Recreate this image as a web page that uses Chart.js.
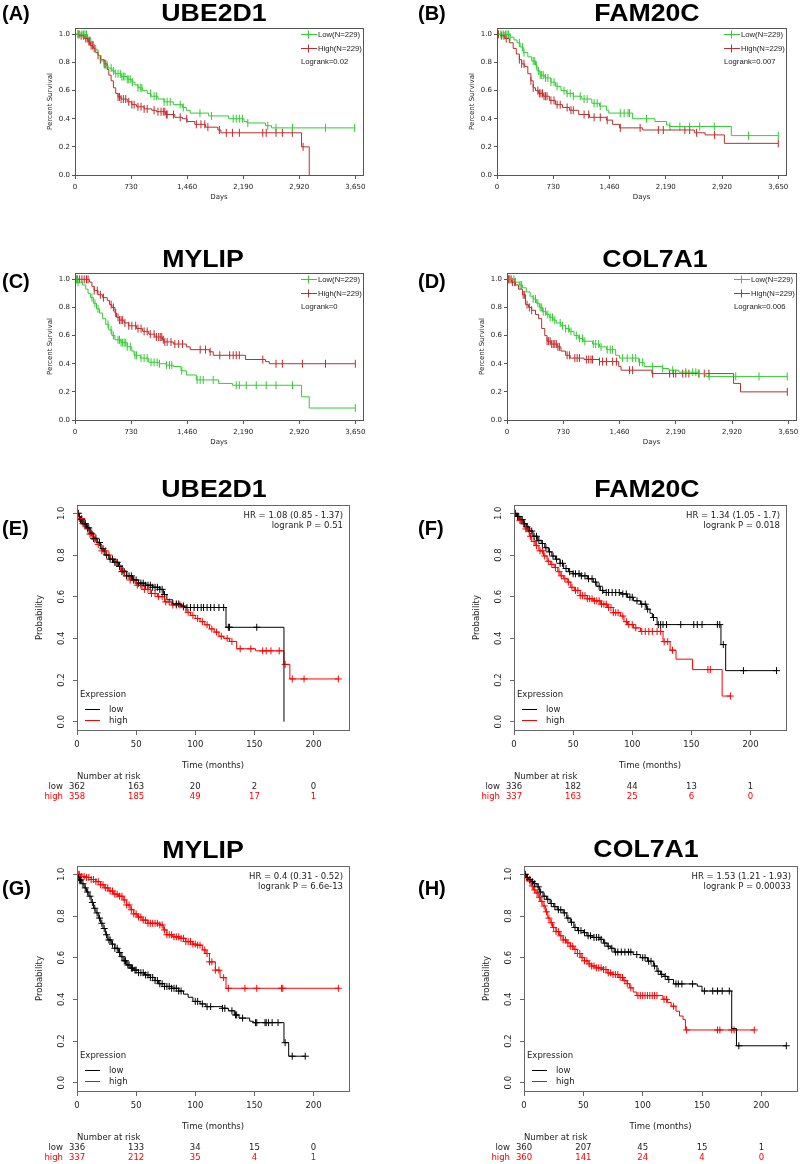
<!DOCTYPE html>
<html>
<head>
<meta charset="utf-8">
<script src="https://cdn.jsdelivr.net/npm/chart.js@4.4.1/dist/chart.umd.min.js"></script>
<style>
  body { margin: 0; background: #fff; }
  #page { position: relative; width: 800px; height: 1164px; overflow: hidden; background: #fff; }
  canvas { position: absolute; }
  .lbl { position: absolute; font-family: 'Liberation Sans', Arial, sans-serif; font-weight: bold; color: #000; white-space: nowrap; }
</style>
</head>
<body>
<div id="page"></div>
<script>
// axis ticks
const daysTicks = [0, 730, 1460, 2190, 2920, 3650];
const monthTicks = [0, 50, 100, 150, 200];
const probTicks = [0, 0.2, 0.4, 0.6, 0.8, 1.0];

// (A) UBE2D1, days: [time, survival after drop]
const aLowSteps = [[0,1],[160,0.98],[200,0.95],[240,0.92],[270,0.89],[300,0.85],[340,0.81],[380,0.78],[430,0.76],[480,0.74],[520,0.72],[600,0.70],[680,0.68],[740,0.66],[780,0.64],[820,0.62],[880,0.60],[940,0.58],[990,0.56],[1080,0.54],[1160,0.52],[1280,0.50],[1400,0.48],[1450,0.46],[1500,0.44],[1740,0.42],[2000,0.40],[2200,0.38],[2240,0.37],[2480,0.35],[2560,0.335]];
const aLowCensor = [40,60,90,110,130,150,390,420,470,500,530,560,590,610,630,650,680,700,720,750,820,850,870,985,1030,1060,1160,1200,1240,1370,1410,1627,1778,2060,2100,2140,2180,2250,2510,2617,2832,3262,3641];
const aHighSteps = [[0,1],[60,0.99],[120,0.97],[170,0.95],[200,0.92],[240,0.90],[270,0.87],[300,0.85],[330,0.82],[380,0.79],[420,0.75],[440,0.71],[470,0.67],[500,0.62],[530,0.58],[560,0.555],[600,0.54],[680,0.52],[740,0.50],[800,0.485],[900,0.47],[1000,0.46],[1060,0.45],[1180,0.43],[1300,0.41],[1400,0.40],[1460,0.38],[1560,0.36],[1700,0.34],[1860,0.32],[1900,0.30],[2950,0.20],[3050,0]];
const aHighCensor = [40,80,110,140,160,180,190,210,230,250,300,330,380,400,560,580,600,630,660,700,740,770,820,860,900,940,1030,1080,1120,1150,1170,1190,1200,1283,1370,1455,1580,1640,1690,1730,1880,1970,2050,2140,2445,2490,2617,2700,2830,2970];

// (B) FAM20C, days
const bLowSteps = [[0,1],[170,0.98],[220,0.96],[260,0.94],[300,0.91],[340,0.87],[400,0.84],[450,0.81],[500,0.78],[520,0.74],[560,0.71],[620,0.69],[700,0.66],[760,0.63],[830,0.60],[900,0.58],[990,0.56],[1100,0.54],[1230,0.51],[1330,0.49],[1420,0.46],[1450,0.44],[1760,0.40],[2050,0.38],[2200,0.355],[2240,0.345],[3040,0.28]];
const bLowCensor = [50,80,110,130,150,170,290,330,350,470,490,510,540,560,580,600,630,660,700,740,780,870,910,950,990,1080,1130,1170,1260,1300,1340,1600,1650,1700,1720,1940,2244,2373,2500,2630,2820,3263,3650];
const bHighSteps = [[0,1],[50,0.99],[100,0.97],[160,0.94],[210,0.90],[250,0.86],[290,0.82],[320,0.79],[360,0.77],[400,0.72],[440,0.67],[470,0.62],[500,0.60],[540,0.58],[600,0.56],[680,0.53],[760,0.50],[850,0.48],[940,0.46],[1060,0.43],[1200,0.41],[1420,0.39],[1500,0.36],[1590,0.335],[1890,0.32],[2560,0.30],[2700,0.285],[2950,0.225]];
const bHighCensor = [20,60,90,120,290,320,350,440,470,530,550,570,590,610,630,650,700,740,780,820,910,960,990,1130,1190,1260,1340,1430,1600,1857,2094,2158,2438,2500,2590,2824,3650];

// (C) MYLIP, days
const cLowSteps = [[0,1],[30,0.98],[100,0.96],[140,0.93],[170,0.90],[200,0.87],[240,0.83],[280,0.79],[320,0.76],[360,0.72],[400,0.68],[440,0.64],[480,0.60],[520,0.57],[600,0.55],[680,0.52],[740,0.49],[770,0.46],[850,0.44],[960,0.41],[1100,0.40],[1190,0.39],[1280,0.38],[1380,0.35],[1450,0.32],[1580,0.285],[1870,0.26],[2050,0.247],[2950,0.165],[3050,0.085]];
const cLowCensor = [10,20,40,220,260,300,430,470,500,560,580,600,620,640,660,680,720,780,800,860,900,940,990,1030,1070,1100,1190,1230,1260,1390,1590,1630,1670,1800,2100,2140,2230,2360,2490,2617,2832,3650];
const cHighSteps = [[0,1],[190,0.98],[220,0.95],[250,0.92],[300,0.89],[360,0.87],[420,0.85],[450,0.82],[480,0.80],[520,0.76],[540,0.73],[580,0.71],[640,0.69],[700,0.67],[800,0.65],[880,0.63],[960,0.61],[1040,0.59],[1140,0.57],[1160,0.555],[1280,0.54],[1450,0.52],[1500,0.50],[1750,0.485],[1800,0.46],[2220,0.43],[2480,0.415],[2530,0.40]];
const cHighCensor = [30,60,90,120,150,170,250,290,330,370,470,500,530,560,580,600,620,650,700,740,790,820,860,900,940,980,1030,1060,1090,1110,1130,1150,1170,1200,1250,1300,1350,1400,1630,1700,1760,1885,2014,2060,2100,2140,2445,2617,2700,2961,3262,3650];

// (D) COL7A1, days
const dLowSteps = [[0,1],[110,0.98],[160,0.96],[200,0.94],[250,0.91],[300,0.88],[340,0.86],[380,0.83],[420,0.80],[460,0.77],[510,0.75],[550,0.73],[600,0.71],[640,0.69],[700,0.67],[760,0.65],[810,0.63],[870,0.60],[930,0.58],[990,0.56],[1110,0.54],[1200,0.52],[1290,0.50],[1410,0.46],[1460,0.44],[1710,0.41],[1780,0.38],[2020,0.366],[2100,0.354],[2230,0.34],[2490,0.33],[2580,0.31]];
const dLowCensor = [30,60,90,110,170,190,340,370,400,430,450,470,500,530,560,590,620,690,720,760,800,830,900,940,980,1010,1120,1150,1190,1220,1300,1340,1370,1500,1560,1630,1670,1720,1760,1890,2020,2150,2320,2410,2450,2490,2623,2968,3270,3637];
const dHighSteps = [[0,1],[60,0.98],[110,0.96],[150,0.93],[200,0.89],[240,0.82],[280,0.80],[320,0.78],[370,0.75],[410,0.72],[450,0.65],[490,0.60],[520,0.56],[570,0.54],[650,0.52],[700,0.49],[760,0.46],[820,0.44],[1000,0.43],[1200,0.415],[1450,0.38],[1480,0.354],[1880,0.33],[2940,0.26],[3030,0.2]];
const dHighCensor = [20,40,70,100,210,230,260,290,320,520,540,560,580,600,620,640,660,680,780,810,880,910,940,1030,1060,1090,1110,1200,1240,1290,1370,1420,1590,1630,1890,2110,2160,2190,2280,2320,2360,2490,2560,2620,3637];

// (E) UBE2D1, months
const eLowSteps = [[0,1],[2,0.97],[5,0.95],[8,0.93],[11,0.905],[14,0.88],[17,0.86],[20,0.83],[23,0.80],[27,0.78],[31,0.765],[35,0.745],[38,0.72],[42,0.70],[47,0.68],[52,0.665],[58,0.655],[64,0.645],[70,0.635],[73,0.61],[76,0.585],[81,0.565],[88,0.555],[91,0.548],[126,0.453],[175,0]];
const eLowCensor = [1,3,4,6,7,9,10,12,14,16,19,22,25,28,30,32,34,36,38,40,42,44,46,48,50,52,54,56,58,60,62,64,66,68,70,72,74,84,86,90,93,96,99,102,105,107,110,113,116,120,124,128,129,152];
const eHighSteps = [[0,1],[2,0.975],[5,0.95],[8,0.925],[11,0.90],[14,0.875],[17,0.85],[21,0.82],[25,0.80],[28,0.78],[31,0.765],[34,0.75],[37,0.725],[40,0.70],[45,0.68],[50,0.655],[55,0.635],[62,0.615],[68,0.60],[74,0.575],[80,0.56],[88,0.55],[92,0.525],[96,0.51],[100,0.495],[104,0.48],[108,0.465],[112,0.445],[116,0.43],[120,0.41],[124,0.40],[129,0.385],[135,0.35],[151,0.34],[175,0.275],[180,0.205]];
const eHighCensor = [1,2,4,5,7,9,11,13,15,18,21,24,27,30,33,36,39,42,45,48,51,54,57,60,63,66,69,72,75,78,81,84,87,90,94,98,102,106,110,114,118,122,127,131,138,147,157,160,164,171,176,182,192,221];
const eRiskLow = [362, 163, 20, 2, 0];
const eRiskHigh = [358, 185, 49, 17, 1];

// (F) FAM20C, months
const fLowSteps = [[0,1],[2,0.985],[5,0.97],[8,0.95],[11,0.935],[13,0.915],[16,0.89],[20,0.87],[23,0.855],[26,0.835],[29,0.815],[32,0.795],[35,0.78],[39,0.76],[42,0.735],[46,0.72],[50,0.71],[56,0.70],[62,0.686],[67,0.67],[70,0.65],[73,0.63],[76,0.62],[90,0.613],[96,0.597],[101,0.58],[107,0.564],[112,0.54],[115,0.52],[117,0.50],[121,0.466],[175,0.37],[179,0.245]];
const fLowCensor = [1,3,4,6,7,9,11,13,15,17,19,21,24,27,30,33,36,39,41,44,47,50,52,55,57,60,63,66,69,72,75,78,80,83,86,89,92,95,98,100,104,108,111,113,118,122,124,126,129,141,152,155,159,172,174,177,194,222];
const fHighSteps = [[0,1],[2,0.985],[4,0.965],[7,0.95],[10,0.925],[13,0.89],[15,0.865],[18,0.845],[21,0.82],[25,0.795],[28,0.77],[31,0.755],[34,0.74],[37,0.72],[39,0.70],[42,0.686],[45,0.67],[48,0.645],[51,0.63],[56,0.605],[62,0.59],[67,0.58],[73,0.564],[79,0.548],[84,0.523],[90,0.507],[93,0.48],[96,0.466],[101,0.45],[107,0.433],[126,0.384],[132,0.343],[137,0.30],[151,0.25],[176,0.123]];
const fHighCensor = [1,3,5,8,10,12,14,17,19,22,24,26,29,32,35,38,40,43,46,49,52,54,56,58,60,62,64,66,68,70,72,74,76,78,80,82,84,86,88,92,95,97,100,103,108,111,114,117,121,124,127,130,134,164,166,183];
const fRiskLow = [336, 182, 44, 13, 1];
const fRiskHigh = [337, 163, 25, 6, 0];

// (G) MYLIP, months
const gLowSteps = [[0,1],[1,0.985],[2,0.973],[4,0.955],[6,0.935],[8,0.915],[10,0.895],[12,0.865],[14,0.837],[16,0.815],[18,0.79],[20,0.765],[22,0.74],[24,0.71],[26,0.685],[29,0.665],[32,0.645],[35,0.625],[37,0.605],[39,0.585],[42,0.565],[45,0.55],[48,0.54],[52,0.528],[57,0.517],[62,0.505],[66,0.49],[69,0.475],[74,0.462],[80,0.453],[86,0.44],[90,0.425],[94,0.41],[98,0.39],[104,0.378],[109,0.365],[123,0.357],[128,0.345],[133,0.325],[137,0.31],[146,0.295],[149,0.288],[175,0.192],[179,0.127]];
const gLowCensor = [1,2,3,5,7,9,11,13,15,17,19,21,23,25,27,28,30,32,34,36,38,40,41,43,44,46,47,49,50,52,54,56,58,60,62,64,66,68,70,72,74,76,78,80,82,84,86,88,100,102,106,110,113,123,125,131,134,135,140,151,152,159,160,162,165,170,176,182,193];
const gHighSteps = [[0,1],[3,0.99],[8,0.985],[12,0.975],[16,0.965],[20,0.95],[23,0.935],[27,0.92],[31,0.905],[35,0.895],[39,0.877],[42,0.853],[45,0.83],[48,0.81],[51,0.795],[55,0.78],[60,0.765],[70,0.757],[73,0.733],[76,0.71],[81,0.70],[87,0.693],[92,0.677],[98,0.665],[101,0.66],[106,0.637],[109,0.62],[112,0.58],[117,0.54],[121,0.504],[126,0.453]];
const gHighCensor = [1,2,4,6,8,10,12,14,16,18,20,22,24,26,28,30,32,34,36,38,40,42,44,46,48,50,52,54,56,58,60,62,64,66,68,70,72,74,76,78,80,82,84,86,88,90,92,94,96,98,100,102,104,108,110,112,114,117,120,124,128,142,152,173,174,221];
const gRiskLow = [336, 133, 34, 15, 0];
const gRiskHigh = [337, 212, 35, 4, 1];

// (H) COL7A1, months
const hLowSteps = [[0,1],[2,0.985],[4,0.975],[6,0.965],[8,0.955],[11,0.94],[13,0.915],[16,0.895],[19,0.88],[22,0.86],[25,0.845],[28,0.83],[33,0.815],[36,0.79],[39,0.77],[42,0.745],[45,0.73],[50,0.72],[53,0.705],[58,0.697],[64,0.688],[67,0.67],[70,0.655],[73,0.645],[76,0.627],[92,0.615],[98,0.60],[104,0.583],[109,0.56],[112,0.535],[115,0.52],[118,0.51],[121,0.495],[126,0.474],[146,0.463],[150,0.44],[175,0.26],[179,0.177]];
const hLowCensor = [1,3,5,7,9,12,14,17,20,23,26,29,31,34,37,40,43,46,48,51,54,56,59,61,63,65,68,71,74,77,79,82,85,88,90,95,100,102,105,107,110,113,116,119,122,128,130,133,142,152,159,163,167,173,181,221];
const hHighSteps = [[0,1],[2,0.984],[4,0.968],[6,0.944],[8,0.925],[10,0.91],[12,0.89],[14,0.87],[16,0.848],[18,0.82],[20,0.79],[22,0.768],[24,0.745],[27,0.725],[30,0.705],[33,0.685],[36,0.671],[39,0.655],[42,0.64],[45,0.62],[48,0.60],[51,0.585],[54,0.57],[57,0.56],[61,0.551],[66,0.543],[70,0.527],[75,0.519],[80,0.505],[84,0.49],[87,0.475],[89,0.455],[92,0.435],[95,0.418],[117,0.40],[121,0.385],[124,0.367],[128,0.343],[131,0.32],[134,0.303],[136,0.253]];
const hHighCensor = [1,2,3,5,7,9,11,13,15,17,19,21,23,25,27,29,31,33,35,37,39,41,43,45,47,49,51,53,55,57,59,61,63,65,67,69,71,73,75,77,79,81,83,85,87,90,96,98,100,102,104,106,108,110,112,118,120,126,137,163,165,175,177,194];
const hRiskLow = [360, 207, 45, 15, 1];
const hRiskHigh = [360, 141, 24, 4, 0];

const GREEN = '#33cc33';
const DARKRED = '#b83030';
const RED = '#ff0000';

Chart.defaults.font.family = "'DejaVu Sans', sans-serif";
const page = document.getElementById('page');

// styles for the two kinds of panel (top: days, bottom: months)
const daysStyle = {
  ml: 45, mt: 6, mr: 4, mb: 28, xMax: 3750, yMin: 0, yMax: 1.045,
  xTicks: daysTicks, xFmt: v => v.toLocaleString('en-US'),
  mark: 'line', markRot: 90, markR: 4, axis: '#555', text: '#222',
  tickFont: 7, xTickLen: 4, xPad: 4, yTickLen: 3
};
const monthsStyle = {
  ml: 55, mt: 6, mr: 6, mb: 72, xMax: 230, yMin: -0.04, yMax: 1.04,
  xTicks: monthTicks, xFmt: v => String(v),
  mark: 'cross', markRot: 0, markR: 3.5, axis: '#666', text: '#222',
  tickFont: 8.5, xTickLen: 5, xPad: 5, yTickLen: 4
};

function survAt(steps, t) {
  let s = steps[0][1];
  for (const [ti, si] of steps) {
    if (ti <= t) s = si; else break;
  }
  return s;
}

function curveData(steps, censor) {
  const pts = steps.map(([t, s]) => ({ x: t, y: s }));
  const last = steps[steps.length - 1];
  const tEnd = Math.max(...censor);
  if (tEnd > last[0]) pts.push({ x: tEnd, y: last[1] });
  return pts;
}

function addText(txt, x, baseline, size, align, stretch) {
  const d = document.createElement('div');
  d.className = 'lbl';
  d.textContent = txt;
  d.style.fontSize = size + 'px';
  d.style.lineHeight = size + 'px';
  d.style.top = (baseline - 0.847 * size) + 'px';
  if (align === 'center') {
    d.style.left = (x - 150) + 'px';
    d.style.width = '300px';
    d.style.textAlign = 'center';
    d.style.transform = 'scaleX(' + (stretch || 1) + ')';
  } else {
    d.style.left = x + 'px';
  }
  page.appendChild(d);
}

function makePanel(p) {
  const st = p.style === 'days' ? daysStyle : monthsStyle;
  const box = p.box;
  const w = box.r - box.l + st.ml + st.mr;
  const h = box.b - box.t + st.mt + st.mb;
  const cv = document.createElement('canvas');
  cv.width = w; cv.height = h;
  cv.style.left = (box.l - st.ml) + 'px';
  cv.style.top = (box.t - st.mt) + 'px';
  cv.style.width = w + 'px';
  cv.style.height = h + 'px';
  page.appendChild(cv);

  const datasets = [];
  p.curves.forEach(c => {
    datasets.push({
      data: curveData(c.steps, c.censor), borderColor: c.line, borderWidth: 1,
      stepped: 'before', pointRadius: 0, fill: false
    });
  });
  p.curves.forEach(c => {
    datasets.push({
      data: c.censor.map(t => ({ x: t, y: survAt(c.steps, t) })), showLine: false,
      pointStyle: st.mark, rotation: st.markRot, pointRadius: st.markR,
      borderColor: c.mark, backgroundColor: c.mark, pointBorderWidth: 1
    });
  });

  const extras = {
    id: 'extras',
    afterDraw(chart) {
      const ctx = chart.ctx, a = chart.chartArea;
      const xs = chart.scales.x, ys = chart.scales.y;
      const midX = (a.left + a.right) / 2, midY = (a.top + a.bottom) / 2;
      ctx.save();
      ctx.strokeStyle = st.axis;
      ctx.lineWidth = 1;
      ctx.strokeRect(Math.round(a.left) + 0.5, Math.round(a.top) + 0.5,
        Math.round(a.right - a.left), Math.round(a.bottom - a.top));
      ctx.fillStyle = st.text;
      if (p.style === 'days') {
        ctx.font = "7px 'DejaVu Sans'";
        ctx.textAlign = 'center';
        ctx.textBaseline = 'middle';
        ctx.fillText('Days', midX, a.bottom + 22);
        ctx.save();
        ctx.translate(a.left - 25, midY);
        ctx.rotate(-Math.PI / 2);
        ctx.fillText('Percent Survival', 0, 0);
        ctx.restore();
        // legend, top right inside the box
        ctx.font = "7.7px 'Liberation Sans'";
        ctx.textAlign = 'left';
        p.curves.forEach((c, i) => {
          const y = Math.round(a.top + 6 + 14 * i) + 0.5;
          ctx.strokeStyle = c.line;
          ctx.beginPath();
          ctx.moveTo(a.right - 62, y); ctx.lineTo(a.right - 46, y);
          ctx.moveTo(a.right - 54.5, y - 4); ctx.lineTo(a.right - 54.5, y + 4);
          ctx.stroke();
          ctx.fillStyle = st.text;
          ctx.fillText(c.label, a.right - 45, y);
        });
        ctx.fillText(p.logrank, a.right - 62, a.top + 34);
      } else {
        ctx.font = "8.5px 'DejaVu Sans'";
        ctx.textAlign = 'center';
        ctx.textBaseline = 'middle';
        probTicks.forEach(v => {
          ctx.save();
          ctx.translate(a.left - 15, ys.getPixelForValue(v));
          ctx.rotate(-Math.PI / 2);
          ctx.fillText(v.toFixed(1), 0, 0);
          ctx.restore();
        });
        ctx.save();
        ctx.translate(a.left - 37, midY);
        ctx.rotate(-Math.PI / 2);
        ctx.fillText('Probability', 0, 0);
        ctx.restore();
        ctx.fillText('Time (months)', midX, a.bottom + 36);
        ctx.textAlign = 'right';
        ctx.fillText(p.hr[0], a.right - 6, a.top + 11);
        ctx.fillText(p.hr[1], a.right - 6, a.top + 21);
        // legend, bottom left inside the box
        ctx.textAlign = 'left';
        ctx.fillText('Expression', a.left + 3, a.bottom - 35);
        p.curves.forEach((c, i) => {
          const y = Math.round(a.bottom - 21 + 11 * i) + 0.5;
          ctx.strokeStyle = c.line;
          ctx.beginPath();
          ctx.moveTo(a.left + 8, y); ctx.lineTo(a.left + 23, y);
          ctx.stroke();
          ctx.fillStyle = st.text;
          ctx.fillText(c.label, a.left + 32, y);
        });
        // number at risk
        ctx.fillText('Number at risk', a.left, a.bottom + 47);
        p.curves.forEach((c, i) => {
          const y = a.bottom + 57 + 9.5 * i;
          ctx.fillStyle = i === 0 ? st.text : RED;
          ctx.textAlign = 'right';
          ctx.fillText(c.label, a.left - 14, y);
          ctx.textAlign = 'center';
          c.risk.forEach((n, k) => ctx.fillText(String(n), xs.getPixelForValue(monthTicks[k]), y));
        });
      }
      ctx.restore();
    }
  };

  new Chart(cv, {
    type: 'line',
    data: { datasets },
    options: {
      responsive: false,
      animation: false,
      events: [],
      layout: { padding: { top: st.mt, right: st.mr, left: 0, bottom: 0 } },
      plugins: { legend: { display: false }, tooltip: { enabled: false } },
      scales: {
        x: {
          type: 'linear', min: 0, max: st.xMax,
          afterBuildTicks: s => { s.ticks = st.xTicks.map(v => ({ value: v })); },
          afterFit: s => { s.height = st.mb; s.paddingLeft = 0; s.paddingRight = 0; },
          grid: { drawOnChartArea: false, drawTicks: true, tickLength: st.xTickLen, color: st.axis },
          border: { color: st.axis },
          ticks: { autoSkip: false, maxRotation: 0, padding: st.xPad, color: st.text,
            font: { size: st.tickFont }, callback: st.xFmt }
        },
        y: {
          type: 'linear', min: st.yMin, max: st.yMax,
          afterBuildTicks: s => { s.ticks = probTicks.map(v => ({ value: v })); },
          afterFit: s => { s.width = st.ml; s.paddingTop = 0; s.paddingBottom = 0; },
          grid: { drawOnChartArea: false, drawTicks: true, tickLength: st.yTickLen, color: st.axis },
          border: { color: st.axis },
          ticks: { padding: 2, color: p.style === 'days' ? st.text : 'rgba(0,0,0,0)',
            font: { size: st.tickFont }, callback: v => v.toFixed(1) }
        }
      }
    },
    plugins: [extras]
  });
}

const dayCurves = (lowS, lowC, highS, highC) => [
  { steps: lowS, censor: lowC, line: GREEN, mark: GREEN, label: 'Low(N=229)' },
  { steps: highS, censor: highC, line: DARKRED, mark: '#cc2626', label: 'High(N=229)' }
];
const monthCurves = (lowS, lowC, lowR, highS, highC, highR) => [
  { steps: lowS, censor: lowC, risk: lowR, line: '#000', mark: '#000', label: 'low' },
  { steps: highS, censor: highC, risk: highR, line: RED, mark: RED, label: 'high' }
];

const panels = [
  { style: 'days', box: { l: 75, t: 28, r: 364, b: 175 }, logrank: 'Logrank=0.02',
    curves: dayCurves(aLowSteps, aLowCensor, aHighSteps, aHighCensor) },
  { style: 'days', box: { l: 497, t: 28, r: 787, b: 175 }, logrank: 'Logrank=0.007',
    curves: dayCurves(bLowSteps, bLowCensor, bHighSteps, bHighCensor) },
  { style: 'days', box: { l: 75, t: 273, r: 364, b: 420 }, logrank: 'Logrank=0',
    curves: dayCurves(cLowSteps, cLowCensor, cHighSteps, cHighCensor) },
  { style: 'days', box: { l: 507, t: 273, r: 797, b: 420 }, logrank: 'Logrank=0.006',
    curves: dayCurves(dLowSteps, dLowCensor, dHighSteps, dHighCensor) },
  { style: 'months', box: { l: 77, t: 505, r: 349, b: 730 },
    hr: ['HR = 1.08 (0.85 - 1.37)', 'logrank P = 0.51'],
    curves: monthCurves(eLowSteps, eLowCensor, eRiskLow, eHighSteps, eHighCensor, eRiskHigh) },
  { style: 'months', box: { l: 514, t: 505, r: 786, b: 730 },
    hr: ['HR = 1.34 (1.05 - 1.7)', 'logrank P = 0.018'],
    curves: monthCurves(fLowSteps, fLowCensor, fRiskLow, fHighSteps, fHighCensor, fRiskHigh) },
  { style: 'months', box: { l: 77, t: 866, r: 349, b: 1091 },
    hr: ['HR = 0.4 (0.31 - 0.52)', 'logrank P = 6.6e-13'],
    curves: monthCurves(gLowSteps, gLowCensor, gRiskLow, gHighSteps, gHighCensor, gRiskHigh) },
  { style: 'months', box: { l: 524, t: 866, r: 797, b: 1091 },
    hr: ['HR = 1.53 (1.21 - 1.93)', 'logrank P = 0.00033'],
    curves: monthCurves(hLowSteps, hLowCensor, hRiskLow, hHighSteps, hHighCensor, hRiskHigh) }
];

panels.forEach(makePanel);

// titles and panel letters
addText('UBE2D1', 214, 21, 23, 'center', 1.16);
addText('FAM20C', 647, 21, 23, 'center', 1.16);
addText('MYLIP', 203, 267, 23, 'center', 1.16);
addText('COL7A1', 655, 267, 23, 'center', 1.16);
addText('UBE2D1', 214, 497, 23, 'center', 1.16);
addText('FAM20C', 647, 497, 23, 'center', 1.16);
addText('MYLIP', 203, 858, 23, 'center', 1.16);
addText('COL7A1', 646, 857, 23, 'center', 1.16);
addText('(A)', 2, 20, 20);
addText('(B)', 418, 20, 20);
addText('(C)', 2, 288, 20);
addText('(D)', 418, 288, 20);
addText('(E)', 2, 535, 20);
addText('(F)', 418, 535, 20);
addText('(G)', 2, 895, 20);
addText('(H)', 418, 895, 20);
</script>
</body>
</html>
